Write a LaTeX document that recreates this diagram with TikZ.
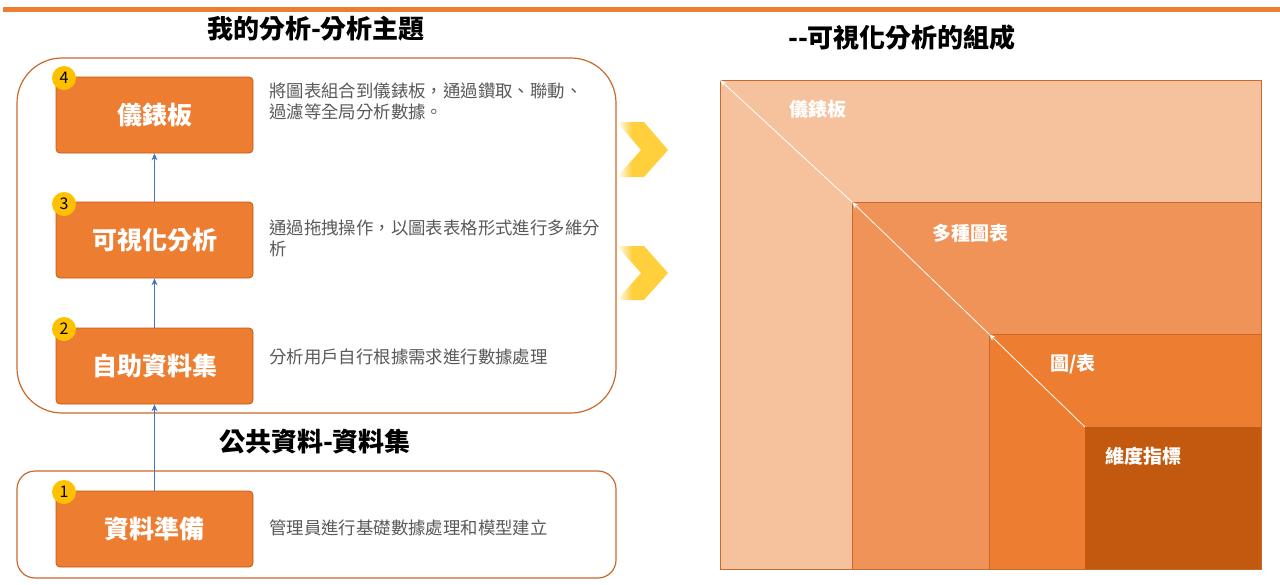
\documentclass[tikz,border=0pt]{standalone}
\usepackage{fontspec}
\setmainfont{Noto Sans CJK TC}
\usetikzlibrary{arrows.meta}
\definecolor{orA}{HTML}{ED7D31}
\definecolor{orB}{HTML}{C55A11}
\definecolor{frameC}{HTML}{C9692B}
\definecolor{peach}{HTML}{F5C29D}
\definecolor{midor}{HTML}{F09358}
\definecolor{darkor}{HTML}{C3580F}
\definecolor{badgeY}{HTML}{FFC000}
\definecolor{chevY}{HTML}{FFCF3C}
\definecolor{descG}{HTML}{595959}
\definecolor{blueA}{HTML}{4472C4}
\pgfdeclarehorizontalshading{chevshade}{100bp}{color(0bp)=(white); color(25bp)=(white); color(40bp)=(chevY); color(100bp)=(chevY)}
\tikzset{
  stepbox/.style={draw=orB, line width=0.8pt, fill=orA, rounded corners=4pt, minimum width=197pt, minimum height=76pt, inner sep=0pt, text=white, font=\fontsize{25}{30}\selectfont\bfseries},
  badge/.style={circle, fill=badgeY, minimum size=24pt, inner sep=0pt, font=\fontsize{16}{18}\selectfont},
  desc/.style={anchor=north west, inner sep=0pt, align=left, text=descG, font=\fontsize{17.4}{21}\selectfont},
  uparrow/.style={draw=blueA, line width=0.9pt, -{Stealth[length=7pt,width=6pt]}},
  titletext/.style={font=\fontsize{26}{30}\selectfont\bfseries, text=black, inner sep=0pt},
  layer/.style={draw=frameC, line width=0.8pt, anchor=north west, inner sep=0pt},
  layerlabel/.style={text=white, font=\fontsize{19}{22}\selectfont\bfseries, inner sep=0pt},
  warrow/.style={draw=white, line width=0.8pt, -{Stealth[length=7pt,width=5pt]}},
  group/.style={draw=frameC, line width=1.2pt},
}
\begin{document}
\begin{tikzpicture}[x=1pt,y=-1pt]
\useasboundingbox (0,0) rectangle (1280,584);
% top line
\draw[orA, line width=5pt] (3,9) -- (1280,9);
% titles
\node[titletext] (t1) at (316,29) {我的分析-分析主題};
\node[titletext] (t2) at (315,442) {公共資料-資料集};
\node[titletext] (t3) at (902,38) {-{}-可視化分析的組成};
% group frames
\draw[group, rounded corners=45pt] (17,58) rectangle (616,413);
\draw[group, rounded corners=18pt] (17,471) rectangle (616,578);
% step boxes
\node[stepbox] (b4) at (154.5,115) {儀錶板};
\node[stepbox] (b3) at (154.5,240) {可視化分析};
\node[stepbox] (b2) at (154.5,366) {自助資料集};
\node[stepbox] (b1) at (154.5,529) {資料準備};
% arrows
\draw[uparrow] (b1.north) -- (b2.south);
\draw[uparrow] (b2.north) -- (b3.south);
\draw[uparrow] (b3.north) -- (b4.south);
% badges
\node[badge] (n4) at (64,78) {4};
\node[badge] (n3) at (64,204) {3};
\node[badge] (n2) at (64,329) {2};
\node[badge] (n1) at (64,492) {1};
% descriptions
\node[desc] (d4) at (269,83) {將圖表組合到儀錶板，通過鑽取、聯動、\\過濾等全局分析數據。};
\node[desc] (d3) at (269,220) {通過拖拽操作，以圖表表格形式進行多維分\\析};
\node[desc] (d2) at (269,349) {分析用戶自行根據需求進行數據處理};
\node[desc] (d1) at (269,520) {管理員進行基礎數據處理和模型建立};
% chevrons
\shade[shading=chevshade] (617,122) -- (644,122) -- (668,150) -- (644,177) -- (617,177) -- (641,150) -- cycle;
\shade[shading=chevshade] (617,246) -- (644,246) -- (668,273) -- (644,300) -- (617,300) -- (641,273) -- cycle;
% layered squares
\node[layer, fill=peach, minimum width=541pt, minimum height=489pt] (r1) at (720,80) {};
\node[layer, fill=midor, minimum width=409pt, minimum height=367pt] (r2) at (852,202) {};
\node[layer, fill=orA, minimum width=272pt, minimum height=235pt] (r3) at (989,334) {};
\node[layer, draw=none, fill=darkor, minimum width=176pt, minimum height=142pt] (r4) at (1085,427) {};
\draw[warrow] (r2.north west) -- (r1.north west);
\draw[warrow] (r3.north west) -- (r2.north west);
\draw[warrow] (r4.north west) -- (r3.north west);
\node[layerlabel] (l1) at (818,109) {儀錶板};
\node[layerlabel] (l2) at (970,233) {多種圖表};
\node[layerlabel] (l3) at (1073,364) {圖/表};
\node[layerlabel] (l4) at (1143,456) {維度指標};
\end{tikzpicture}
\end{document}
